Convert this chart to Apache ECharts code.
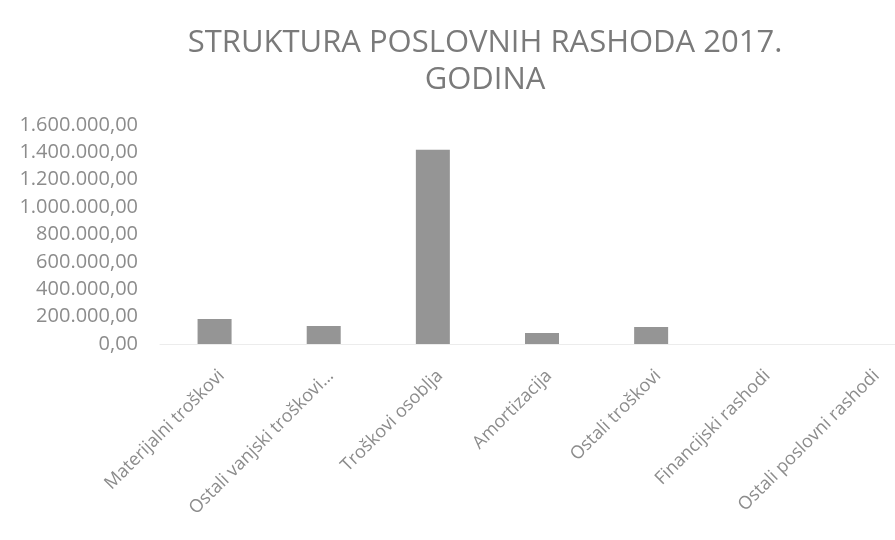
<!DOCTYPE html>
<html>
<head>
<meta charset="utf-8">
<script src="https://cdn.jsdelivr.net/npm/echarts@6/dist/echarts.min.js"></script>
<style>
  html, body { margin: 0; padding: 0; background: #fff; }
  #main { width: 895px; height: 540px; }
</style>
</head>
<body>
<div id="main"></div>
<script>
// kategorije i iznosi (procjena s grafa)
var categories = [
  "Materijalni troškovi",
  "Ostali vanjski troškovi...",
  "Troškovi osoblja",
  "Amortizacija",
  "Ostali troškovi",
  "Financijski rashodi",
  "Ostali poslovni rashodi"
];
var values = [182000, 131000, 1420000, 80000, 124000, 0, 0];
var yTicks = [0, 200000, 400000, 600000, 800000, 1000000, 1200000, 1400000, 1600000];

function fmt(v) {
  // 1.600.000,00
  var s = Math.round(v).toString().replace(/\B(?=(\d{3})+(?!\d))/g, ".");
  return s + ",00";
}

var chart = echarts.init(document.getElementById("main"));
chart.setOption({
  animation: false,
  backgroundColor: "#ffffff",
  title: {
    text: "STRUKTURA POSLOVNIH RASHODA 2017.\nGODINA",
    left: 480,
    top: 20,
    textAlign: "center",
    textStyle: {
      fontFamily: "Open Sans",
      fontWeight: "normal",
      fontSize: 31,
      color: "#7a7a7a",
      lineHeight: 37
    }
  },
  grid: {
    left: 160,
    right: -29,
    top: 125,
    bottom: 196,
    containLabel: false,
    outerBoundsMode: "none"
  },
  xAxis: {
    type: "category",
    data: categories,
    axisLine: { show: true, lineStyle: { color: "#ececec" } },
    axisTick: { show: false },
    axisLabel: {
      rotate: 45,
      interval: 0,
      margin: 36,
      padding: [0, -10, 0, 0],
      fontFamily: "Open Sans",
      fontSize: 18,
      color: "#8c8c8c"
    }
  },
  yAxis: {
    type: "value",
    min: yTicks[0],
    max: yTicks[yTicks.length - 1],
    interval: yTicks[1] - yTicks[0],
    axisLine: { show: false },
    axisTick: { show: false },
    splitLine: { show: false },
    axisLabel: {
      margin: 22,
      fontFamily: "Open Sans",
      fontSize: 20,
      color: "#8c8c8c",
      formatter: fmt
    }
  },
  series: [
    {
      type: "bar",
      data: values,
      barWidth: 34,
      itemStyle: {
        color: "#959595",
        borderWidth: 0
      }
    }
  ]
});
</script>
</body>
</html>
